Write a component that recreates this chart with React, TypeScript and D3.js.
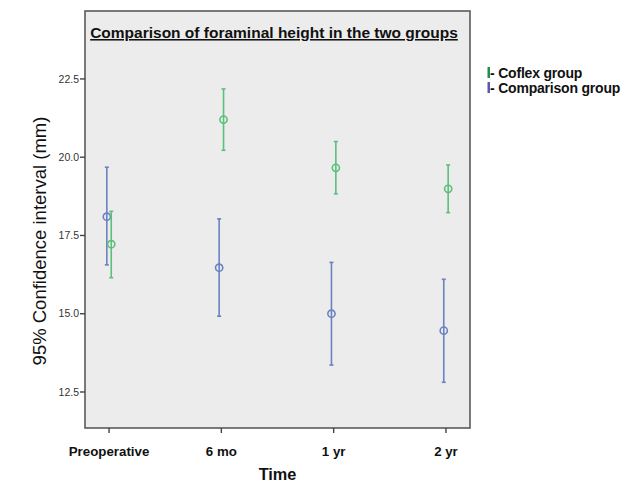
import React from "react";
import * as d3 from "d3";

const categories = ["Preoperative", "6 mo", "1 yr", "2 yr"];
const coflexMean = [17.22, 21.2, 19.66, 18.99];
const coflexLower = [16.15, 20.22, 18.83, 18.23];
const coflexUpper = [18.27, 22.18, 20.5, 19.75];
const compMean = [18.1, 16.47, 15.0, 14.46];
const compLower = [16.56, 14.92, 13.36, 12.81];
const compUpper = [19.68, 18.03, 16.64, 16.1];
const yTicks = [12.5, 15.0, 17.5, 20.0, 22.5];

const W = 633;
const H = 483;
const plot = { left: 85, top: 11, right: 470, bottom: 428 };

const green = "#5cbf7a";
const blue = "#6b82c2";

export default function App() {
  const x = d3
    .scalePoint<string>()
    .domain(categories)
    .range([plot.left, plot.right])
    .padding(0.214);
  const y = d3.scaleLinear().domain([11.35, 24.67]).range([plot.bottom, plot.top]);

  const series = [
    { name: "Comparison group", mean: compMean, lo: compLower, hi: compUpper, color: blue, off: -2.2 },
    { name: "Coflex group", mean: coflexMean, lo: coflexLower, hi: coflexUpper, color: green, off: 2.2 },
  ];

  const font = "'Liberation Sans', Arial, sans-serif";

  return (
    <svg width={W} height={H} style={{ position: "absolute", left: 0, top: 0 }} fontFamily={font}>
      <rect x={0} y={0} width={W} height={H} fill="#ffffff" />
      <rect
        x={plot.left}
        y={plot.top}
        width={plot.right - plot.left}
        height={plot.bottom - plot.top}
        fill="#ececec"
        stroke="#5a5a5a"
        strokeWidth={1.6}
      />
      <text
        x={274}
        y={38}
        textAnchor="middle"
        fontSize={15.5}
        fontWeight="bold"
        textDecoration="underline"
        fill="#111"
      >
        Comparison of foraminal height in the two groups
      </text>
      {yTicks.map((t) => (
        <g key={t}>
          <line x1={plot.left - 5} x2={plot.left} y1={y(t)} y2={y(t)} stroke="#444" strokeWidth={1.4} />
          <text x={plot.left - 6} y={y(t)} dy="0.35em" textAnchor="end" fontSize={10.5} fill="#333">
            {t.toFixed(1)}
          </text>
        </g>
      ))}
      {categories.map((c) => (
        <g key={c}>
          <line x1={x(c)!} x2={x(c)!} y1={plot.bottom} y2={plot.bottom + 5} stroke="#444" strokeWidth={1.4} />
          <text x={x(c)!} y={456} textAnchor="middle" fontSize={13.3} fontWeight="bold" fill="#111">
            {c}
          </text>
        </g>
      ))}
      <text x={(plot.left + plot.right) / 2} y={480} textAnchor="middle" fontSize={16.3} fontWeight="bold" fill="#111">
        Time
      </text>
      <text
        transform={`translate(40, 241) rotate(-90)`}
        textAnchor="middle"
        dy="0.35em"
        fontSize={18.5}
        fill="#111"
      >
        95% Confidence interval (mm)
      </text>
      {series.map((s) =>
        categories.map((c, i) => {
          const cx = x(c)! + s.off;
          return (
            <g key={s.name + c} stroke={s.color} fill="none">
              <line x1={cx} x2={cx} y1={y(s.lo[i])} y2={y(s.hi[i])} strokeWidth={1.6} />
              <line x1={cx - 2} x2={cx + 2} y1={y(s.lo[i])} y2={y(s.lo[i])} strokeWidth={1.6} />
              <line x1={cx - 2} x2={cx + 2} y1={y(s.hi[i])} y2={y(s.hi[i])} strokeWidth={1.6} />
              <circle cx={cx} cy={y(s.mean[i])} r={3.6} strokeWidth={1.6} />
            </g>
          );
        })
      )}
      <g fontSize={14} fontWeight="bold" fill="#111">
        <rect x={487.5} y={67} width={2.5} height={11} fill="#1f8f4f" />
        <text x={490} y={77.5} letterSpacing={-0.2}>- Coflex group</text>
        <rect x={487.5} y={82} width={2.5} height={11} fill="#5a5aa8" />
        <text x={490} y={92.5} letterSpacing={-0.2}>- Comparison group</text>
      </g>
    </svg>
  );
}
